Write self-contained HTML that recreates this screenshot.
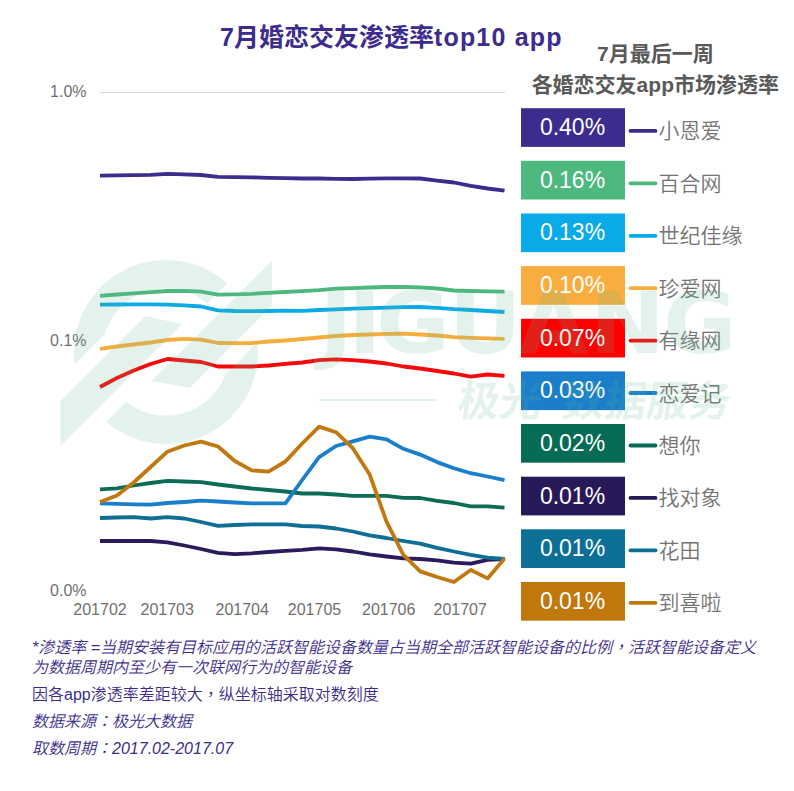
<!DOCTYPE html>
<html><head><meta charset="utf-8">
<style>
html,body{margin:0;padding:0;background:#fff;}
body{width:794px;height:791px;overflow:hidden;position:relative;}
svg{position:absolute;left:0;top:0;}
.ax{font-family:"Liberation Sans",Arial,sans-serif;font-size:16px;fill:#707070;}
.bv{font-family:"Liberation Sans",Arial,sans-serif;font-size:23px;fill:#fff;}
.lb{font-family:"Liberation Sans","Noto Sans CJK SC",sans-serif;font-size:21px;fill:#747474;font-weight:350;}
.title{font-family:"Liberation Sans","Noto Sans CJK SC",sans-serif;font-size:25px;font-weight:bold;fill:#3d2c8e;}
.hd{font-family:"Liberation Sans","Noto Sans CJK SC",sans-serif;font-size:21px;font-weight:bold;fill:#595959;}
.ft{position:absolute;left:32px;font-family:"Liberation Sans","Noto Sans CJK SC",sans-serif;font-size:16px;color:#3b2d8c;white-space:nowrap;line-height:18px;font-weight:350;}
.it{font-style:italic;}
.tc{font-family:"Noto Sans CJK TC",sans-serif;}
.wmt{font-family:"DejaVu Sans",sans-serif;font-size:85px;font-weight:bold;}
.wmc{font-family:"Liberation Sans","Noto Sans CJK SC",sans-serif;font-size:42px;font-weight:bold;}
</style></head><body>
<svg width="794" height="791" viewBox="0 0 794 791">
<text class="title" x="220" y="46.2">7月婚恋交友渗透率<tspan letter-spacing="1.2">top10 app</tspan></text>
<text class="hd" x="655.3" y="60.5" text-anchor="middle">7月最后一周</text>
<text class="hd" x="655.3" y="91.5" text-anchor="middle">各婚恋交友app市场渗透率</text>
<line x1="100" y1="92.5" x2="505" y2="92.5" stroke="#d5d5e0" stroke-width="1.2"/>
<text class="ax" x="86.5" y="97.4" text-anchor="end">1.0%</text>
<text class="ax" x="86.5" y="346.1" text-anchor="end">0.1%</text>
<text class="ax" x="86.5" y="596" text-anchor="end">0.0%</text>
<text class="ax" x="100" y="615" text-anchor="middle">201702</text>
<text class="ax" x="167.2" y="615" text-anchor="middle">201703</text>
<text class="ax" x="242.2" y="615" text-anchor="middle">201704</text>
<text class="ax" x="314.5" y="615" text-anchor="middle">201705</text>
<text class="ax" x="388.7" y="615" text-anchor="middle">201706</text>
<text class="ax" x="460.2" y="615" text-anchor="middle">201707</text>
<polyline points="100.0,175.6 116.9,175.4 133.7,175.2 150.6,174.8 167.4,173.8 184.3,174.3 201.1,175.0 218.0,176.8 234.8,177.2 251.7,177.4 268.5,177.8 285.4,178.2 302.2,178.5 319.1,178.5 336.0,178.8 352.8,179.0 369.7,178.6 386.5,178.4 403.4,178.4 420.2,178.5 437.1,180.6 453.9,182.5 470.8,185.8 487.6,188.5 504.5,190.7" fill="none" stroke="#3d2c8e" stroke-width="3.8" stroke-linejoin="round" stroke-linecap="butt"/>
<polyline points="100.0,295.9 116.9,294.5 133.7,293.3 150.6,292.2 167.4,291.0 184.3,290.9 201.1,291.6 218.0,294.6 234.8,294.3 251.7,293.8 268.5,292.8 285.4,292.0 302.2,291.2 319.1,290.2 336.0,288.7 352.8,288.2 369.7,287.5 386.5,287.0 403.4,287.0 420.2,287.4 437.1,288.5 453.9,290.5 470.8,291.0 487.6,291.3 504.5,291.6" fill="none" stroke="#4cb87e" stroke-width="3.8" stroke-linejoin="round" stroke-linecap="butt"/>
<polyline points="100.0,304.6 116.9,304.5 133.7,304.4 150.6,304.3 167.4,304.6 184.3,305.3 201.1,306.5 218.0,310.4 234.8,311.0 251.7,311.2 268.5,311.0 285.4,310.6 302.2,310.8 319.1,310.0 336.0,309.3 352.8,308.6 369.7,308.2 386.5,307.6 403.4,307.2 420.2,307.0 437.1,307.8 453.9,309.1 470.8,310.0 487.6,311.0 504.5,312.0" fill="none" stroke="#0aaae6" stroke-width="3.8" stroke-linejoin="round" stroke-linecap="butt"/>
<polyline points="100.0,348.8 116.9,346.5 133.7,344.5 150.6,342.5 167.4,340.0 184.3,338.8 201.1,339.6 218.0,343.0 234.8,343.2 251.7,343.0 268.5,341.5 285.4,340.5 302.2,339.0 319.1,337.5 336.0,336.0 352.8,335.0 369.7,334.5 386.5,333.8 403.4,333.7 420.2,334.5 437.1,335.5 453.9,337.2 470.8,337.8 487.6,338.3 504.5,338.8" fill="none" stroke="#f7ad3e" stroke-width="3.8" stroke-linejoin="round" stroke-linecap="butt"/>
<polyline points="100.0,387.0 116.9,378.0 133.7,370.5 150.6,364.0 167.4,359.0 184.3,360.5 201.1,362.0 218.0,366.5 234.8,366.5 251.7,366.5 268.5,365.5 285.4,363.8 302.2,362.5 319.1,360.2 336.0,359.4 352.8,360.2 369.7,361.5 386.5,363.5 403.4,366.5 420.2,368.5 437.1,371.0 453.9,373.5 470.8,376.6 487.6,374.5 504.5,375.8" fill="none" stroke="#f80808" stroke-width="3.8" stroke-linejoin="round" stroke-linecap="butt"/>
<polyline points="100.0,541.0 116.9,541.0 133.7,541.0 150.6,541.0 167.4,542.3 184.3,545.5 201.1,549.0 218.0,552.9 234.8,554.2 251.7,553.3 268.5,552.0 285.4,550.8 302.2,549.8 319.1,548.4 336.0,549.3 352.8,551.5 369.7,554.3 386.5,556.5 403.4,558.4 420.2,559.0 437.1,560.4 453.9,562.6 470.8,563.7 487.6,559.8 504.5,559.0" fill="none" stroke="#2b1b5c" stroke-width="3.8" stroke-linejoin="round" stroke-linecap="butt"/>
<polyline points="100.0,518.0 116.9,517.5 133.7,517.2 150.6,518.5 167.4,517.2 184.3,518.5 201.1,522.0 218.0,525.9 234.8,525.0 251.7,524.3 268.5,524.3 285.4,524.3 302.2,526.0 319.1,526.5 336.0,528.5 352.8,531.5 369.7,535.4 386.5,538.0 403.4,541.0 420.2,543.7 437.1,547.9 453.9,551.5 470.8,554.8 487.6,557.6 504.5,559.0" fill="none" stroke="#0f6e96" stroke-width="3.8" stroke-linejoin="round" stroke-linecap="butt"/>
<polyline points="100.0,489.3 116.9,488.3 133.7,485.5 150.6,483.0 167.4,480.8 184.3,481.5 201.1,482.2 218.0,484.5 234.8,486.5 251.7,488.5 268.5,490.0 285.4,491.5 302.2,493.5 319.1,493.5 336.0,494.5 352.8,495.8 369.7,495.8 386.5,495.8 403.4,497.8 420.2,498.0 437.1,500.8 453.9,503.0 470.8,506.3 487.6,506.3 504.5,507.7" fill="none" stroke="#0d6c55" stroke-width="3.8" stroke-linejoin="round" stroke-linecap="butt"/>
<polyline points="100.0,503.3 116.9,503.8 133.7,504.4 150.6,504.7 167.4,503.0 184.3,502.0 201.1,500.7 218.0,501.5 234.8,502.5 251.7,503.3 268.5,503.3 285.4,503.3 302.2,480.0 319.1,457.1 336.0,446.0 352.8,441.3 369.7,436.6 386.5,439.4 403.4,448.8 420.2,454.6 437.1,462.1 453.9,468.2 470.8,473.2 487.6,476.5 504.5,480.1" fill="none" stroke="#1a7fcb" stroke-width="3.8" stroke-linejoin="round" stroke-linecap="butt"/>
<polyline points="100.0,502.0 116.9,495.4 133.7,482.5 150.6,467.0 167.4,451.7 184.3,445.5 201.1,441.7 218.0,446.5 234.8,461.0 251.7,470.3 268.5,471.6 285.4,461.5 302.2,443.5 319.1,426.6 336.0,432.2 352.8,448.2 369.7,474.6 386.5,521.6 403.4,554.8 420.2,571.4 437.1,577.0 453.9,582.0 470.8,570.0 487.6,578.4 504.5,558.4" fill="none" stroke="#c1780f" stroke-width="3.8" stroke-linejoin="round" stroke-linecap="butt"/>
<rect x="521" y="108.2" width="104" height="38.7" fill="#3c2c8d"/>
<text class="bv" x="572.5" y="135.0" text-anchor="middle">0.40%</text>
<line x1="630.5" y1="130.9" x2="655.5" y2="130.9" stroke="#3c2c8d" stroke-width="3.8" stroke-linecap="round"/>
<text class="lb" x="658.5" y="138.4">小恩爱</text>
<rect x="521" y="160.8" width="104" height="38.7" fill="#4db97f"/>
<text class="bv" x="572.5" y="187.6" text-anchor="middle">0.16%</text>
<line x1="630.5" y1="183.3" x2="655.5" y2="183.3" stroke="#4db97f" stroke-width="3.8" stroke-linecap="round"/>
<text class="lb" x="658.5" y="190.8">百合网</text>
<rect x="521" y="213.5" width="104" height="38.7" fill="#08aae8"/>
<text class="bv" x="572.5" y="240.3" text-anchor="middle">0.13%</text>
<line x1="630.5" y1="235.8" x2="655.5" y2="235.8" stroke="#08aae8" stroke-width="3.8" stroke-linecap="round"/>
<text class="lb" x="658.5" y="243.3">世纪佳缘</text>
<rect x="521" y="266.1" width="104" height="38.7" fill="#f9ad3f"/>
<text class="bv" x="572.5" y="292.9" text-anchor="middle">0.10%</text>
<line x1="630.5" y1="288.2" x2="655.5" y2="288.2" stroke="#f9ad3f" stroke-width="3.8" stroke-linecap="round"/>
<text class="lb" x="658.5" y="295.7">珍爱网</text>
<rect x="521" y="318.8" width="104" height="38.7" fill="#fe0000"/>
<text class="bv" x="572.5" y="345.6" text-anchor="middle">0.07%</text>
<line x1="630.5" y1="340.6" x2="655.5" y2="340.6" stroke="#fe0000" stroke-width="3.8" stroke-linecap="round"/>
<text class="lb" x="658.5" y="348.1">有缘网</text>
<rect x="521" y="371.4" width="104" height="38.7" fill="#1a7ecb"/>
<text class="bv" x="572.5" y="398.2" text-anchor="middle">0.03%</text>
<line x1="630.5" y1="393.0" x2="655.5" y2="393.0" stroke="#1a7ecb" stroke-width="3.8" stroke-linecap="round"/>
<text class="lb" x="658.5" y="400.5">恋爱记</text>
<rect x="521" y="424.0" width="104" height="38.7" fill="#066c55"/>
<text class="bv" x="572.5" y="450.8" text-anchor="middle">0.02%</text>
<line x1="630.5" y1="445.5" x2="655.5" y2="445.5" stroke="#066c55" stroke-width="3.8" stroke-linecap="round"/>
<text class="lb" x="658.5" y="453.0">想你</text>
<rect x="521" y="476.7" width="104" height="38.7" fill="#281a59"/>
<text class="bv" x="572.5" y="503.5" text-anchor="middle">0.01%</text>
<line x1="630.5" y1="497.9" x2="655.5" y2="497.9" stroke="#281a59" stroke-width="3.8" stroke-linecap="round"/>
<text class="lb" x="658.5" y="505.4">找对象</text>
<rect x="521" y="529.3" width="104" height="38.7" fill="#0b6f96"/>
<text class="bv" x="572.5" y="556.1" text-anchor="middle">0.01%</text>
<line x1="630.5" y1="550.3" x2="655.5" y2="550.3" stroke="#0b6f96" stroke-width="3.8" stroke-linecap="round"/>
<text class="lb" x="658.5" y="557.8">花田</text>
<rect x="521" y="582.0" width="104" height="38.7" fill="#c0780c"/>
<text class="bv" x="572.5" y="608.8" text-anchor="middle">0.01%</text>
<line x1="630.5" y1="602.8" x2="655.5" y2="602.8" stroke="#c0780c" stroke-width="3.8" stroke-linecap="round"/>
<text class="lb" x="658.5" y="610.3">到喜啦</text>
<g opacity="0.17" fill="rgb(100,185,150)" stroke="rgb(100,185,150)" stroke-width="0">
<mask id="rm" maskUnits="userSpaceOnUse" x="0" y="0" width="794" height="791"><rect x="0" y="0" width="794" height="791" fill="#fff"/><polygon points="40.0,399.5 127.5,312.0 200.2,327.8 40.0,488.0" fill="#000"/><polygon points="290.0,220.6 290.0,309.7 208.5,391.2 132.9,377.7" fill="#000"/></mask>
<path mask="url(#rm)" fill-rule="evenodd" d="M74,352 a92,92 0 1,0 184,0 a92,92 0 1,0 -184,0 Z M102.5,352 a63.5,63.5 0 1,0 127.0,0 a63.5,63.5 0 1,0 -127.0,0 Z"/>
<polygon points="60.3,401.2 145.6,315.9 182.1,323.9 60.3,445.7"/>
<polygon points="272.0,260.6 272.0,305.7 189.8,387.9 151.5,381.1"/>
<text class="wmt" transform="scale(1.06,1)" y="352.8"><tspan x="301.2">J</tspan><tspan x="328.3">I</tspan><tspan x="354.9">G</tspan><tspan x="423.2">U</tspan><tspan x="489.2">A</tspan><tspan x="556.4">N</tspan><tspan x="625.5">G</tspan></text>
<rect x="319.4" y="399" width="118.1" height="2"/>
<text class="wmc" transform="translate(456,416) skewX(-8)" y="0"><tspan x="0">极光</tspan> <tspan x="105">数据服务</tspan></text>
</g>
</svg>
<div class="ft it" style="top:637px">*渗透率 =当期安装有目标应用的活跃智能设备数量占当期全部活跃智能设备的比例<span class="tc">，</span>活跃智能设备定义</div>
<div class="ft it" style="top:658.5px">为数据周期内至少有一次联网行为的智能设备</div>
<div class="ft" style="top:684px">因各app渗透率差距较大<span class="tc">，</span>纵坐标轴采取对数刻度</div>
<div class="ft it" style="top:711px">数据来源<span class="tc">：</span>极光大数据</div>
<div class="ft it" style="top:738px">取数周期<span class="tc">：</span>2017.02-2017.07</div>
</body></html>
